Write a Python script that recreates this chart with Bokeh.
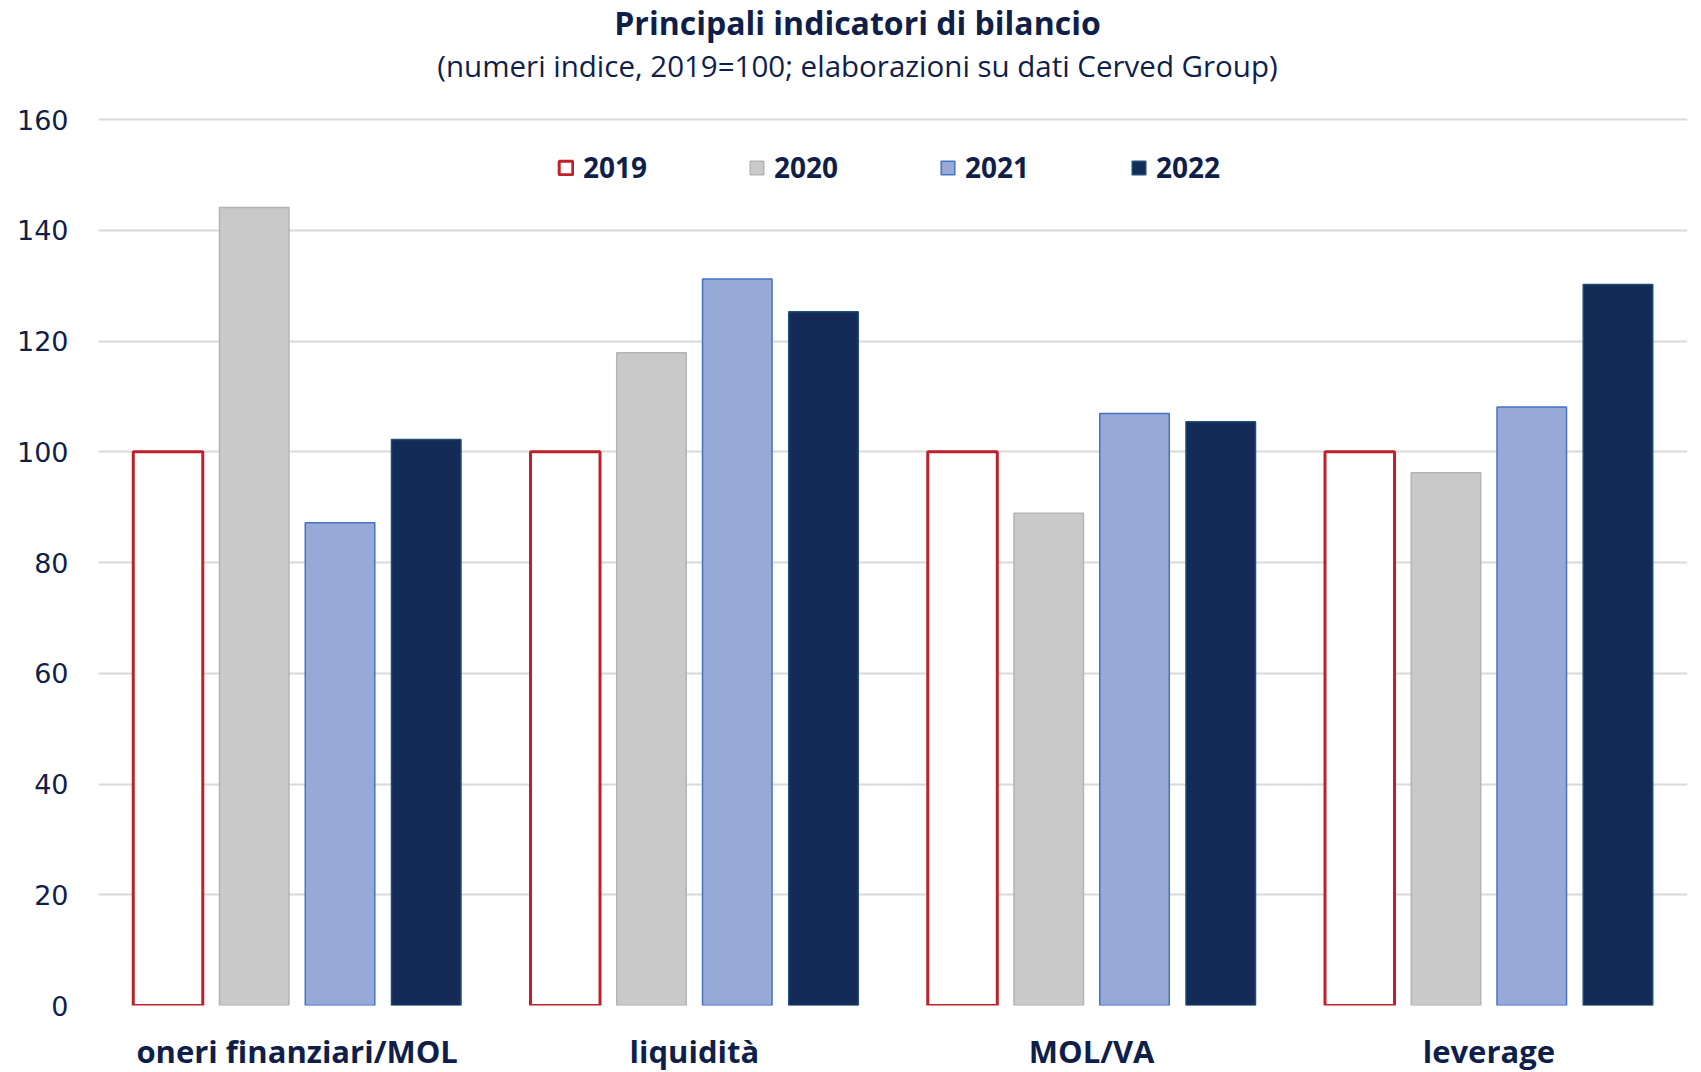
from bokeh.plotting import figure
from bokeh.models import (FactorRange, FixedTicker, Legend, LegendItem, Label, ColumnDataSource,
                          Range1d)
from bokeh.transform import dodge
from bokeh.embed import file_html
from bokeh.resources import INLINE

categories = ["oneri finanziari/MOL", "liquidità", "MOL/VA", "leverage"]
years = ["2019", "2020", "2021", "2022"]
v2019 = [100, 100, 100, 100]
v2020 = [144.1, 117.9, 88.9, 96.2]
v2021 = [87.2, 131.2, 106.9, 108.1]
v2022 = [102.2, 125.3, 105.4, 130.2]
y_ticks = [0, 20, 40, 60, 80, 100, 120, 140, 160]

title_text = "Principali indicatori di bilancio"
subtitle_text = "(numeri indice, 2019=100; elaborazioni su dati Cerved Group)"

NAVY = "#0f1f4a"
FONT = "Open Sans"

# the plotting area extends above the top gridline (160) to host title and subtitle
FRAME_H = 1005
Y_TOP = 160 * FRAME_H / 886.0

src = ColumnDataSource(dict(cat=categories, y2019=v2019, y2020=v2020, y2021=v2021, y2022=v2022))

p = figure(x_range=FactorRange(factors=categories, range_padding=0), y_range=Range1d(0, Y_TOP),
           frame_width=1589, frame_height=FRAME_H, output_backend="svg", toolbar_location=None,
           title=None,
           min_border_left=98, min_border_right=13, min_border_top=0, min_border_bottom=60)
p.outline_line_color = None
p.background_fill_color = "white"

styles = [
    ("y2019", -0.325, "white", "#c0202a", 3.0),
    ("y2020", -0.108, "#c9c9c9", "#b4b4b4", 1.5),
    ("y2021", 0.108, "#97a9d7", "#4472c4", 1.5),
    ("y2022", 0.325, "#152b57", "#1f4e79", 1.5),
]
renderers = []
for col, off, fill, line, lw in styles:
    r = p.vbar(x=dodge("cat", off, range=p.x_range), top=col, width=0.175, source=src,
               fill_color=fill, line_color=line, line_width=lw)
    renderers.append(r)

p.xgrid.grid_line_color = None
p.ygrid.grid_line_color = "#d9d9d9"
p.ygrid.grid_line_width = 2
p.yaxis.ticker = FixedTicker(ticks=y_ticks)
p.yaxis.axis_line_color = None
p.yaxis.major_tick_line_color = None
p.yaxis.minor_tick_line_color = None
p.yaxis.major_tick_out = 0
p.yaxis.minor_tick_out = 0
p.yaxis.major_label_standoff = 30
p.yaxis.major_label_text_font = "DejaVu Sans"
p.yaxis.major_label_text_font_size = "27px"
p.yaxis.major_label_text_color = NAVY

p.xaxis.axis_line_color = None
p.xaxis.major_tick_line_color = None
p.xaxis.major_tick_out = 0
p.xaxis.minor_tick_out = 0
p.xaxis.major_label_standoff = 24
p.xaxis.major_label_text_font = FONT
p.xaxis.major_label_text_font_style = "bold"
p.xaxis.major_label_text_font_size = "31px"
p.xaxis.major_label_text_color = NAVY

legend = Legend(items=[LegendItem(label=y, renderers=[r]) for y, r in zip(years, renderers)],
                orientation="horizontal", location=(459, 819), padding=0, margin=0,
                glyph_width=17, glyph_height=17, label_standoff=9, label_width=65, spacing=100,
                border_line_color=None, background_fill_alpha=0,
                label_text_font=FONT, label_text_font_style="bold",
                label_text_font_size="28px", label_text_color=NAVY)
p.add_layout(legend, "center")

# title and subtitle, positioned in screen pixels from the frame's bottom-left corner
p.add_layout(Label(x=759, y=983, x_units="screen", y_units="screen", text=title_text,
                   text_align="center", text_baseline="middle", text_font=FONT,
                   text_font_style="bold", text_font_size="32px", text_color=NAVY))
p.add_layout(Label(x=759, y=940, x_units="screen", y_units="screen", text=subtitle_text,
                   text_align="center", text_baseline="middle", text_font=FONT,
                   text_font_size="29.5px", text_color=NAVY))

open("out.html", "w").write(file_html(p, INLINE))
